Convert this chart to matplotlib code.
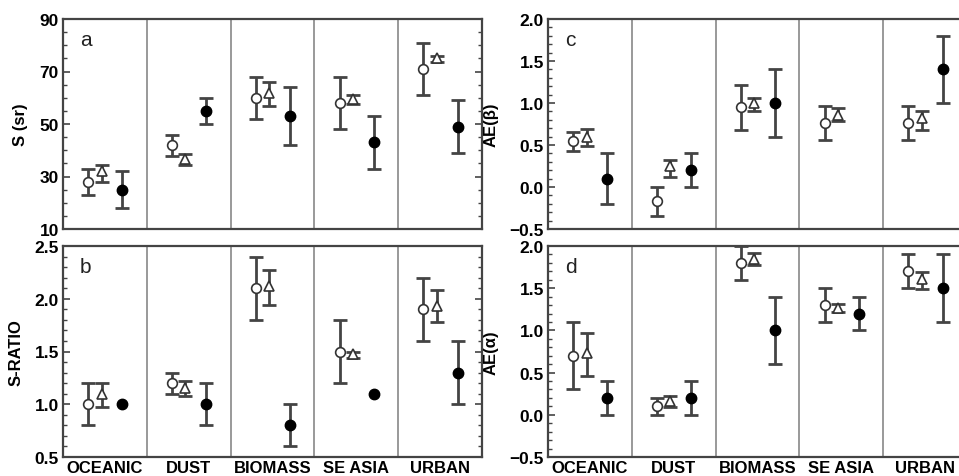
import matplotlib
matplotlib.use("Agg")
import matplotlib.pyplot as plt
from matplotlib.ticker import MultipleLocator
import numpy as np

plt.rcParams['font.family'] = ['Liberation Sans', 'DejaVu Sans']

categories = ["OCEANIC", "DUST", "BIOMASS", "SE ASIA", "URBAN"]

# Panel a: S (sr)
a_circ = [28, 42, 60, 58, 71]
a_circ_lo = [23, 38, 52, 48, 61]
a_circ_hi = [33, 46, 68, 68, 81]
a_tri = [32, 36.5, 62, 59.5, 75]
a_tri_lo = [28, 34.5, 57, 57.6, 73.7]
a_tri_hi = [34.5, 38.6, 66, 61.2, 76]
a_fill = [25, 55, 53, 43, 49]
a_fill_lo = [18, 50, 42, 33, 39]
a_fill_hi = [32, 60, 64, 53, 59]

# Panel b: S-RATIO
b_circ = [1.0, 1.2, 2.1, 1.5, 1.9]
b_circ_lo = [0.8, 1.1, 1.8, 1.2, 1.6]
b_circ_hi = [1.2, 1.3, 2.4, 1.8, 2.2]
b_tri = [1.1, 1.15, 2.12, 1.48, 1.93]
b_tri_lo = [0.97, 1.08, 1.94, 1.44, 1.78]
b_tri_hi = [1.2, 1.22, 2.27, 1.5, 2.08]
b_fill = [1.0, 1.0, 0.8, 1.1, 1.3]
b_fill_lo = [1.0, 0.8, 0.6, 1.1, 1.0]
b_fill_hi = [1.0, 1.2, 1.0, 1.1, 1.6]

# Panel c: AE(beta)
c_circ = [0.55, -0.17, 0.95, 0.76, 0.76]
c_circ_lo = [0.43, -0.35, 0.68, 0.56, 0.56]
c_circ_hi = [0.66, 0.0, 1.22, 0.96, 0.96]
c_tri = [0.6, 0.25, 1.0, 0.86, 0.82]
c_tri_lo = [0.49, 0.12, 0.91, 0.78, 0.68]
c_tri_hi = [0.69, 0.32, 1.06, 0.94, 0.9]
c_fill = [0.1, 0.2, 1.0, np.nan, 1.4]
c_fill_lo = [-0.2, 0.0, 0.6, np.nan, 1.0]
c_fill_hi = [0.4, 0.4, 1.4, np.nan, 1.8]

# Panel d: AE(alpha)
d_circ = [0.7, 0.1, 1.8, 1.3, 1.7]
d_circ_lo = [0.3, 0.0, 1.6, 1.1, 1.5]
d_circ_hi = [1.1, 0.2, 2.0, 1.5, 1.9]
d_tri = [0.73, 0.16, 1.85, 1.27, 1.61]
d_tri_lo = [0.46, 0.09, 1.77, 1.22, 1.49]
d_tri_hi = [0.97, 0.22, 1.92, 1.31, 1.69]
d_fill = [0.2, 0.2, 1.0, 1.2, 1.5]
d_fill_lo = [0.0, 0.0, 0.6, 1.0, 1.1]
d_fill_hi = [0.4, 0.4, 1.4, 1.4, 1.9]

panels = [
    dict(letter="a", ylabel="S (sr)", ylim=(10, 90), major=20, offset=10, minor=5,
         series=[(a_circ, a_circ_lo, a_circ_hi), (a_tri, a_tri_lo, a_tri_hi), (a_fill, a_fill_lo, a_fill_hi)]),
    dict(letter="b", ylabel="S-RATIO", ylim=(0.5, 2.5), major=0.5, offset=0, minor=0.1,
         series=[(b_circ, b_circ_lo, b_circ_hi), (b_tri, b_tri_lo, b_tri_hi), (b_fill, b_fill_lo, b_fill_hi)]),
    dict(letter="c", ylabel="AE(β)", ylim=(-0.5, 2.0), major=0.5, offset=0, minor=0.1,
         series=[(c_circ, c_circ_lo, c_circ_hi), (c_tri, c_tri_lo, c_tri_hi), (c_fill, c_fill_lo, c_fill_hi)]),
    dict(letter="d", ylabel="AE(α)", ylim=(-0.5, 2.0), major=0.5, offset=0, minor=0.1,
         series=[(d_circ, d_circ_lo, d_circ_hi), (d_tri, d_tri_lo, d_tri_hi), (d_fill, d_fill_lo, d_fill_hi)]),
]

W, H = 959, 477
fig = plt.figure(figsize=(W / 100, H / 100), dpi=100)

rects = [
    (63, 20, 482, 230),
    (63, 247, 482, 458),
    (548, 20, 967, 230),
    (548, 247, 967, 458),
]

offsets = [0.30, 0.46, 0.71]
styles = [
    dict(marker='o', ms=7, mfc='white', mec='#333333', mew=1.2),
    dict(marker='^', ms=7, mfc='white', mec='#333333', mew=1.2),
    dict(marker='o', ms=7.5, mfc='black', mec='black', mew=1.0),
]
ecol = '#444444'
n = len(categories)

for p, (x0, y0, x1, y1) in zip(panels, rects):
    ax = fig.add_axes([x0 / W, 1 - y1 / H, (x1 - x0) / W, (y1 - y0) / H])
    for (vals, lo, hi), off, st in zip(p["series"], offsets, styles):
        v = np.array(vals, dtype=float)
        lo = np.array(lo, dtype=float)
        hi = np.array(hi, dtype=float)
        x = np.arange(n) + off
        has_err = (hi - lo) > 0
        if has_err.any():
            yerr = np.vstack([v[has_err] - lo[has_err], hi[has_err] - v[has_err]])
            ax.errorbar(x[has_err], v[has_err], yerr=yerr, fmt='none', ecolor=ecol,
                        elinewidth=2.0, capsize=5, capthick=2.0, zorder=2)
        ax.plot(x, v, linestyle='none', zorder=3, **st)
    for k in range(1, n):
        ax.axvline(k, color='#888888', lw=1.2, zorder=1)
    ax.set_xlim(0, n)
    ax.set_ylim(*p["ylim"])
    ax.yaxis.set_major_locator(MultipleLocator(p["major"], offset=p["offset"]))
    ax.yaxis.set_minor_locator(MultipleLocator(p["minor"]))
    ax.tick_params(axis='y', which='both', direction='in', left=True, right=True,
                   color='#444444')
    ax.tick_params(axis='y', which='major', length=5, width=1.2, labelsize=12.5, pad=3)
    ax.tick_params(axis='y', which='minor', length=3, width=1.0)
    for lab in ax.get_yticklabels():
        lab.set_fontweight('bold')
    if p["letter"] in ("b", "d"):
        ax.set_xticks(np.arange(n) + 0.5)
        ax.set_xticklabels(categories, fontsize=12, fontweight='bold')
        ax.tick_params(axis='x', length=0, pad=2)
    else:
        ax.set_xticks([])
    ax.set_ylabel(p["ylabel"], fontsize=12, fontweight='bold', labelpad=8)
    for s in ax.spines.values():
        s.set_color('#444444')
        s.set_linewidth(1.6)
    ax.text(0.04, 0.95, p["letter"], transform=ax.transAxes,
            fontsize=15, ha='left', va='top', color='#222222')

fig.savefig("out.png", dpi=100)
